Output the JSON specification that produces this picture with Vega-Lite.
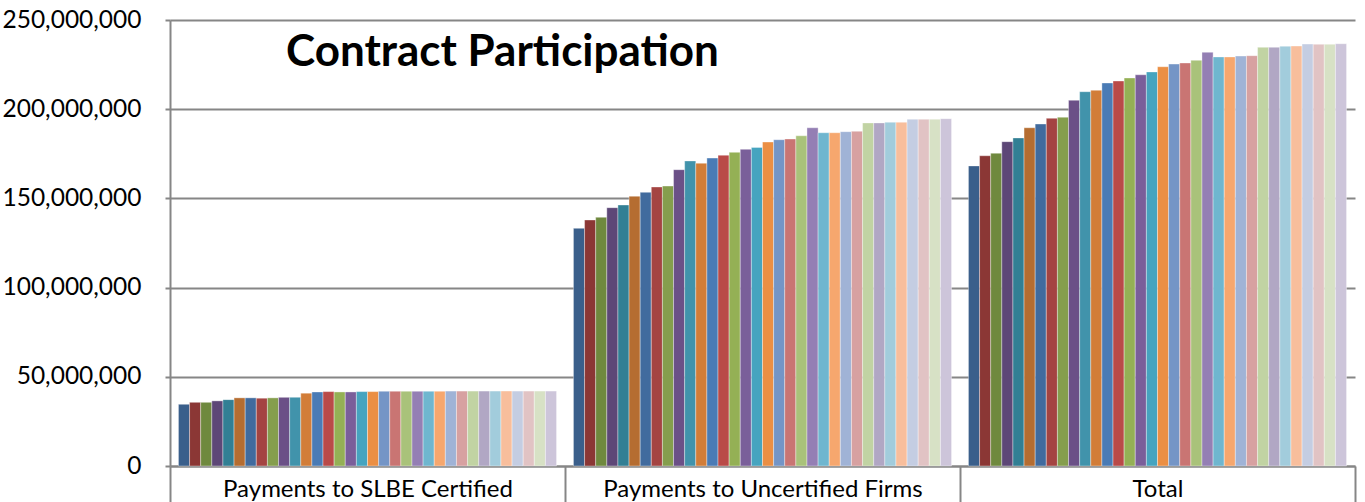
{
  "$schema": "https://vega.github.io/schema/vega-lite/v6.json",
  "width": 1185,
  "height": 446,
  "autosize": {"type": "none"},
  "padding": {"left": 170, "top": 20, "right": 10, "bottom": 36},
  "background": "white",
  "title": {
    "text": "Contract Participation",
    "anchor": "start",
    "frame": "group",
    "dx": 116,
    "dy": 72,
    "font": "Lato",
    "fontSize": 44,
    "fontWeight": "bold",
    "color": "#000000"
  },
  "data": {
    "values": [
      {"g":"Payments to SLBE Certified","s":1,"v":34600000},{"g":"Payments to SLBE Certified","s":2,"v":35700000},{"g":"Payments to SLBE Certified","s":3,"v":35700000},{"g":"Payments to SLBE Certified","s":4,"v":36500000},{"g":"Payments to SLBE Certified","s":5,"v":37200000},{"g":"Payments to SLBE Certified","s":6,"v":38200000},{"g":"Payments to SLBE Certified","s":7,"v":38200000},{"g":"Payments to SLBE Certified","s":8,"v":38000000},{"g":"Payments to SLBE Certified","s":9,"v":38200000},{"g":"Payments to SLBE Certified","s":10,"v":38500000},{"g":"Payments to SLBE Certified","s":11,"v":38500000},{"g":"Payments to SLBE Certified","s":12,"v":40800000},{"g":"Payments to SLBE Certified","s":13,"v":41500000},{"g":"Payments to SLBE Certified","s":14,"v":41700000},{"g":"Payments to SLBE Certified","s":15,"v":41500000},{"g":"Payments to SLBE Certified","s":16,"v":41500000},{"g":"Payments to SLBE Certified","s":17,"v":41700000},{"g":"Payments to SLBE Certified","s":18,"v":41700000},{"g":"Payments to SLBE Certified","s":19,"v":41900000},{"g":"Payments to SLBE Certified","s":20,"v":41900000},{"g":"Payments to SLBE Certified","s":21,"v":41900000},{"g":"Payments to SLBE Certified","s":22,"v":41900000},{"g":"Payments to SLBE Certified","s":23,"v":41900000},{"g":"Payments to SLBE Certified","s":24,"v":41900000},{"g":"Payments to SLBE Certified","s":25,"v":42000000},{"g":"Payments to SLBE Certified","s":26,"v":42000000},{"g":"Payments to SLBE Certified","s":27,"v":42000000},{"g":"Payments to SLBE Certified","s":28,"v":42000000},{"g":"Payments to SLBE Certified","s":29,"v":42000000},{"g":"Payments to SLBE Certified","s":30,"v":42000000},{"g":"Payments to SLBE Certified","s":31,"v":42000000},{"g":"Payments to SLBE Certified","s":32,"v":42000000},{"g":"Payments to SLBE Certified","s":33,"v":42000000},{"g":"Payments to SLBE Certified","s":34,"v":42000000},
      {"g":"Payments to Uncertified Firms","s":1,"v":133200000},{"g":"Payments to Uncertified Firms","s":2,"v":137900000},{"g":"Payments to Uncertified Firms","s":3,"v":139400000},{"g":"Payments to Uncertified Firms","s":4,"v":144800000},{"g":"Payments to Uncertified Firms","s":5,"v":146300000},{"g":"Payments to Uncertified Firms","s":6,"v":151200000},{"g":"Payments to Uncertified Firms","s":7,"v":153400000},{"g":"Payments to Uncertified Firms","s":8,"v":156400000},{"g":"Payments to Uncertified Firms","s":9,"v":156900000},{"g":"Payments to Uncertified Firms","s":10,"v":166100000},{"g":"Payments to Uncertified Firms","s":11,"v":171000000},{"g":"Payments to Uncertified Firms","s":12,"v":169700000},{"g":"Payments to Uncertified Firms","s":13,"v":172600000},{"g":"Payments to Uncertified Firms","s":14,"v":174200000},{"g":"Payments to Uncertified Firms","s":15,"v":175800000},{"g":"Payments to Uncertified Firms","s":16,"v":177500000},{"g":"Payments to Uncertified Firms","s":17,"v":178600000},{"g":"Payments to Uncertified Firms","s":18,"v":181600000},{"g":"Payments to Uncertified Firms","s":19,"v":182900000},{"g":"Payments to Uncertified Firms","s":20,"v":183300000},{"g":"Payments to Uncertified Firms","s":21,"v":185100000},{"g":"Payments to Uncertified Firms","s":22,"v":189600000},{"g":"Payments to Uncertified Firms","s":23,"v":186800000},{"g":"Payments to Uncertified Firms","s":24,"v":186800000},{"g":"Payments to Uncertified Firms","s":25,"v":187400000},{"g":"Payments to Uncertified Firms","s":26,"v":187600000},{"g":"Payments to Uncertified Firms","s":27,"v":192300000},{"g":"Payments to Uncertified Firms","s":28,"v":192300000},{"g":"Payments to Uncertified Firms","s":29,"v":192700000},{"g":"Payments to Uncertified Firms","s":30,"v":192700000},{"g":"Payments to Uncertified Firms","s":31,"v":194400000},{"g":"Payments to Uncertified Firms","s":32,"v":194400000},{"g":"Payments to Uncertified Firms","s":33,"v":194400000},{"g":"Payments to Uncertified Firms","s":34,"v":194700000},
      {"g":"Total","s":1,"v":168200000},{"g":"Total","s":2,"v":173900000},{"g":"Total","s":3,"v":175300000},{"g":"Total","s":4,"v":181800000},{"g":"Total","s":5,"v":183900000},{"g":"Total","s":6,"v":189600000},{"g":"Total","s":7,"v":191700000},{"g":"Total","s":8,"v":194900000},{"g":"Total","s":9,"v":195500000},{"g":"Total","s":10,"v":205000000},{"g":"Total","s":11,"v":209800000},{"g":"Total","s":12,"v":210600000},{"g":"Total","s":13,"v":214700000},{"g":"Total","s":14,"v":215800000},{"g":"Total","s":15,"v":217500000},{"g":"Total","s":16,"v":219300000},{"g":"Total","s":17,"v":220900000},{"g":"Total","s":18,"v":223800000},{"g":"Total","s":19,"v":225300000},{"g":"Total","s":20,"v":225900000},{"g":"Total","s":21,"v":227400000},{"g":"Total","s":22,"v":231900000},{"g":"Total","s":23,"v":229300000},{"g":"Total","s":24,"v":229300000},{"g":"Total","s":25,"v":229800000},{"g":"Total","s":26,"v":230000000},{"g":"Total","s":27,"v":234700000},{"g":"Total","s":28,"v":234700000},{"g":"Total","s":29,"v":235300000},{"g":"Total","s":30,"v":235400000},{"g":"Total","s":31,"v":236500000},{"g":"Total","s":32,"v":236400000},{"g":"Total","s":33,"v":236400000},{"g":"Total","s":34,"v":236700000}
    ]
  },
  "mark": {"type": "bar", "stroke": "#ffffff", "strokeWidth": 0.6, "strokeOpacity": 0.6},
  "encoding": {
    "x": {
      "field": "g",
      "type": "nominal",
      "sort": null,
      "title": null,
      "scale": {"paddingInner": 0, "paddingOuter": 0},
      "axis": {
        "labelAngle": 0,
        "tickBand": "extent",
        "tickSize": 36,
        "tickColor": "#868686",
        "tickWidth": 2,
        "domainColor": "#868686",
        "domainWidth": 2,
        "labelPadding": -25,
        "labelFont": "Lato",
        "labelFontSize": 24,
        "labelLimit": 0,
        "labelColor": "#000000",
        "labelBaseline": "top"
      }
    },
    "xOffset": {
      "field": "s",
      "type": "ordinal",
      "scale": {"paddingInner": 0, "paddingOuter": 0.76}
    },
    "y": {
      "field": "v",
      "type": "quantitative",
      "title": null,
      "scale": {"domain": [0, 250000000], "nice": false},
      "axis": {
        "values": [0, 50000000, 100000000, 150000000, 200000000, 250000000],
        "format": ",d",
        "grid": true,
        "gridColor": "#868686",
        "gridWidth": 2,
        "tickSize": 5,
        "tickColor": "#868686",
        "tickWidth": 2,
        "domainColor": "#868686",
        "domainWidth": 2,
        "labelPadding": 24,
        "labelFont": "Lato",
        "labelFontSize": 24.5,
        "labelLimit": 0,
        "labelColor": "#000000"
      }
    },
    "color": {
      "field": "s",
      "type": "ordinal",
      "legend": null,
      "scale": {
        "range": ["#3A5F8B","#8B3735","#6F893E","#5D4777","#327F94","#B56D31","#416B9E","#A44442","#859E4D","#6B5087","#4193AB","#D27D38","#4A7BB5","#B94A48","#94B055","#7A5F9A","#46A4BF","#EB8F44","#7495C6","#C97573","#A9C27A","#947FB4","#6FB6CF","#F6A76E","#A0B3D6","#D7A1A1","#C1D3A3","#B1A7C4","#A2CCDC","#F8BE9C","#C4CDE2","#E1C3C4","#D7E1C5","#CDC5DA"]
      }
    }
  },
  "config": {
    "view": {"stroke": null},
    "axis": {"labelOverlap": false}
  }
}
